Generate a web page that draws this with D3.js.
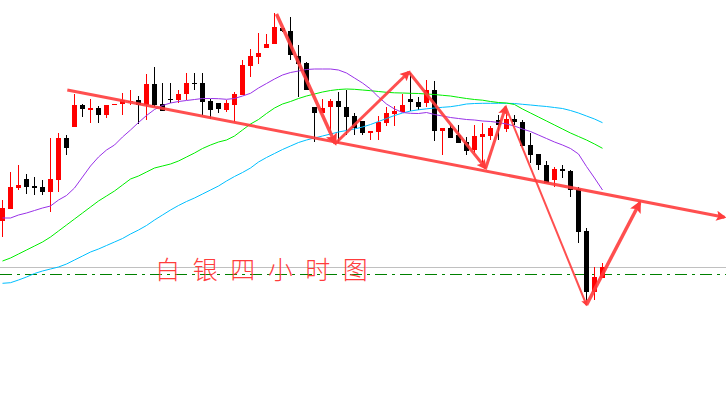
<!DOCTYPE html>
<html>
<head>
<meta charset="utf-8">
<script src="https://cdn.jsdelivr.net/npm/d3@7"></script>
<style>
  body { margin: 0; background: #fff; }
  svg { display: block; }
</style>
</head>
<body>
<div id="chart"></div>
<script>
// silver, 4h bars (prices)
const openVals = [15.793, 15.913, 16.123, 16.21, 16.14, 16.13, 16.083, 16.20, 16.62, 16.733,
  16.95, 16.90, 16.917, 16.85, 16.953, 16.957, 16.983, 17.00, 16.95, 17.16,
  16.96, 17.007, 17.00, 17.06, 17.173, 17.167, 16.993, 16.973, 16.90, 16.95,
  17.05, 17.34, 17.433, 17.523, 17.557, 17.717, 17.69, 17.44, 17.367, 16.927,
  16.867, 16.927, 16.99, 16.927, 16.84, 16.793, 16.667, 16.683, 16.773, 16.86,
  16.883, 17.01, 16.977, 16.967, 17.10, 16.693, 16.717, 16.65, 16.583, 16.50,
  16.633, 16.64, 16.80, 16.707, 16.807, 16.783, 16.55, 16.46, 16.35, 16.20,
  16.313, 16.293, 16.107, 15.69, 15.083, 15.217];
const highVals = [16.00, 16.283, 16.35, 16.26, 16.233, 16.20, 16.62, 16.67, 16.65, 17.06,
  16.96, 17.01, 16.94, 16.95, 16.965, 17.067, 17.10, 17.04, 17.26, 17.327,
  17.173, 17.167, 17.10, 17.273, 17.273, 17.273, 17.007, 16.973, 17.00, 17.08,
  17.40, 17.507, 17.667, 17.66, 17.867, 17.72, 17.827, 17.55, 17.383, 16.933,
  17.01, 17.01, 17.083, 17.10, 16.87, 16.793, 16.693, 16.84, 16.927, 16.94,
  17.06, 17.273, 17.027, 17.20, 17.19, 16.717, 16.75, 16.75, 16.633, 16.75,
  16.773, 16.74, 16.85, 16.917, 16.85, 16.80, 16.667, 16.46, 16.393, 16.333,
  16.35, 16.30, 16.127, 15.717, 15.327, 15.373];
const lowVals = [15.63, 15.913, 16.10, 16.06, 16.05, 16.05, 15.883, 16.083, 16.45, 16.733,
  16.833, 16.767, 16.767, 16.823, 16.945, 16.85, 16.95, 16.76, 16.80, 16.933,
  16.893, 16.973, 16.973, 17.00, 17.10, 16.85, 16.807, 16.867, 16.883, 16.78,
  17.05, 17.233, 17.36, 17.517, 17.557, 17.683, 17.40, 17.027, 17.10, 16.583,
  16.867, 16.67, 16.57, 16.65, 16.65, 16.65, 16.60, 16.60, 16.74, 16.74,
  16.883, 16.893, 16.90, 16.933, 16.593, 16.45, 16.623, 16.573, 16.45, 16.467,
  16.35, 16.60, 16.60, 16.683, 16.75, 16.54, 16.367, 16.30, 16.167, 16.133,
  16.217, 16.027, 15.567, 14.95, 15.00, 15.217];
const closeVals = [15.923, 16.13, 16.15, 16.133, 16.123, 16.083, 16.21, 16.62, 16.523, 16.95,
  16.907, 16.917, 16.85, 16.95, 16.957, 17.00, 16.993, 16.95, 17.16, 16.95,
  16.893, 16.997, 17.06, 17.167, 17.163, 16.983, 16.90, 16.907, 16.967, 17.06,
  17.35, 17.44, 17.467, 17.56, 17.733, 17.69, 17.45, 17.36, 17.10, 16.873,
  16.923, 16.99, 16.927, 16.827, 16.717, 16.667, 16.693, 16.783, 16.867, 16.893,
  16.95, 16.977, 16.927, 17.10, 16.693, 16.717, 16.623, 16.573, 16.493, 16.64,
  16.66, 16.717, 16.75, 16.807, 16.783, 16.54, 16.45, 16.35, 16.167, 16.307,
  16.287, 16.10, 15.683, 15.083, 15.227, 15.333];

// moving averages (purple / green / blue)
const maFast = [15.82, 15.82, 15.85, 15.87, 15.895, 15.92, 15.94, 16.00, 16.045, 16.12,
  16.23, 16.34, 16.43, 16.50, 16.55, 16.63, 16.70, 16.775, 16.845, 16.905,
  16.945, 16.97, 16.985, 16.995, 17.005, 17.015, 17.015, 17.013, 17.007, 17.015,
  17.04, 17.067, 17.12, 17.165, 17.21, 17.25, 17.275, 17.29, 17.305, 17.31,
  17.31, 17.31, 17.30, 17.27, 17.22, 17.17, 17.11, 17.03, 16.96, 16.91,
  16.875, 16.867, 16.865, 16.875, 16.855, 16.84, 16.825, 16.815, 16.805, 16.80,
  16.79, 16.785, 16.775, 16.76, 16.74, 16.71, 16.685, 16.65, 16.615, 16.58,
  16.55, 16.515, 16.46, 16.335, 16.22, 16.10];
const maMid = [15.39, 15.42, 15.46, 15.50, 15.54, 15.58, 15.63, 15.69, 15.75, 15.81,
  15.87, 15.93, 15.99, 16.04, 16.09, 16.15, 16.21, 16.24, 16.28, 16.32,
  16.34, 16.36, 16.39, 16.43, 16.47, 16.515, 16.55, 16.58, 16.60, 16.64,
  16.70, 16.76, 16.805, 16.865, 16.92, 16.96, 16.985, 17.015, 17.04, 17.06,
  17.08, 17.095, 17.105, 17.11, 17.107, 17.10, 17.093, 17.085, 17.077, 17.072,
  17.07, 17.067, 17.065, 17.06, 17.055, 17.047, 17.04, 17.027, 17.015, 17.005,
  16.998, 16.985, 16.975, 16.97, 16.955, 16.91, 16.87, 16.83, 16.79, 16.75,
  16.71, 16.67, 16.635, 16.60, 16.56, 16.517];
const maSlow = [15.167, 15.173, 15.20, 15.23, 15.265, 15.29, 15.31, 15.33, 15.36, 15.40,
  15.44, 15.48, 15.51, 15.545, 15.58, 15.615, 15.66, 15.70, 15.745, 15.80,
  15.85, 15.90, 15.945, 15.985, 16.02, 16.06, 16.10, 16.14, 16.19, 16.235,
  16.275, 16.32, 16.38, 16.425, 16.465, 16.505, 16.54, 16.575, 16.60, 16.62,
  16.64, 16.66, 16.68, 16.695, 16.71, 16.73, 16.755, 16.785, 16.815, 16.845,
  16.87, 16.89, 16.902, 16.912, 16.92, 16.927, 16.933, 16.945, 16.96, 16.965,
  16.967, 16.967, 16.967, 16.967, 16.965, 16.957, 16.95, 16.942, 16.935, 16.925,
  16.915, 16.895, 16.87, 16.84, 16.81, 16.773];

// drawn annotations (bar index, price)
const trendIdx = [8.1, 90.25];
const trendPrice = [17.10, 15.827];
const waveIdx = [34.25, 41.6, 50.8, 60.4, 62.9, 73.0, 79.66];
const wavePrice = [17.86, 16.565, 17.28, 16.317, 16.933, 14.95, 15.973];
const bidPrice = 15.333;
const supportPrice = 15.26;
const titleText = '白银四小时图';

class CandleChart {

    constructor(_config) {
        this.config = {
            parentElement: _config.parentElement,
            containerWidth: _config.containerWidth || 726,
            containerHeight: _config.containerHeight || 399
        };
        this.initVis();
    }

    initVis() {
        let vis = this;

        vis.svg = d3.select(vis.config.parentElement)
            .append('svg')
            .attr('width', vis.config.containerWidth)
            .attr('height', vis.config.containerHeight);

        vis.svg.append('rect')
            .attr('width', vis.config.containerWidth)
            .attr('height', vis.config.containerHeight)
            .attr('fill', '#fff');

        vis.x = d3.scaleLinear().domain([0, 90]).range([2.5, 722.5]);
        vis.y = d3.scaleLinear().domain([15, 18]).range([300, 0]);

        const defs = vis.svg.append('defs');
        defs.append('marker')
            .attr('id', 'head')
            .attr('viewBox', '0 0 10 10')
            .attr('refX', 8).attr('refY', 5)
            .attr('markerWidth', 4).attr('markerHeight', 3.4)
            .attr('orient', 'auto')
            .append('path')
            .attr('d', 'M0,0 L10,5 L0,10 L2,5 Z')
            .attr('fill', '#ff3c3c');

        vis.renderVis();
    }

    renderVis() {
        let vis = this;
        const x = vis.x, y = vis.y;
        const bars = d3.range(openVals.length).map(i => ({
            i: i, o: openVals[i], h: highVals[i], l: lowVals[i], c: closeVals[i]
        }));

        // horizontal lines
        vis.svg.append('line')
            .attr('x1', 0).attr('x2', vis.config.containerWidth)
            .attr('y1', Math.round(y(bidPrice)) + 0.5).attr('y2', Math.round(y(bidPrice)) + 0.5)
            .attr('stroke', '#c0c0c0');
        vis.svg.append('line')
            .attr('x1', 0).attr('x2', vis.config.containerWidth)
            .attr('y1', Math.round(y(supportPrice)) + 0.5).attr('y2', Math.round(y(supportPrice)) + 0.5)
            .attr('stroke', '#008000')
            .attr('stroke-dasharray', '12,5,3,5');

        // candles
        const colorOf = d => d.c >= d.o ? '#ff0000' : '#000000';
        const candles = vis.svg.append('g').selectAll('g')
            .data(bars).enter().append('g');

        candles.append('rect')
            .attr('x', d => x(d.i) - 0.5)
            .attr('y', d => Math.round(y(d.h)))
            .attr('width', 1)
            .attr('height', d => Math.max(1, Math.round(y(d.l)) - Math.round(y(d.h))))
            .attr('fill', colorOf);

        candles.append('rect')
            .attr('x', d => x(d.i) - 2.5)
            .attr('y', d => Math.round(y(Math.max(d.o, d.c))))
            .attr('width', 5)
            .attr('height', d => Math.max(1, Math.round(y(Math.min(d.o, d.c))) - Math.round(y(Math.max(d.o, d.c)))))
            .attr('fill', colorOf);

        // moving averages
        const maLine = d3.line()
            .x((d, i) => x(i))
            .y(d => y(d));
        [[maSlow, '#00bfff'], [maMid, '#00ee00'], [maFast, '#9932e8']].forEach(([s, col]) => {
            vis.svg.append('path')
                .datum(s)
                .attr('d', maLine)
                .attr('fill', 'none')
                .attr('stroke', col)
                .attr('stroke-width', 1);
        });

        // title
        vis.svg.append('text')
            .attr('x', x(19.1))
            .attr('y', y(15.21))
            .attr('fill', '#ff3c3c')
            .attr('font-family', '"Noto Sans CJK SC", sans-serif')
            .attr('font-size', 25)
            .attr('font-weight', 300)
            .attr('letter-spacing', 12.5)
            .text(titleText);

        // trend line
        vis.svg.append('line')
            .attr('x1', x(trendIdx[0])).attr('y1', y(trendPrice[0]))
            .attr('x2', x(trendIdx[1])).attr('y2', y(trendPrice[1]))
            .attr('stroke', '#ff3c3c')
            .attr('stroke-opacity', 0.9)
            .attr('stroke-width', 3)
            .attr('marker-end', 'url(#head)');

        // wave arrows
        const widths = [3.5, 3, 3, 3, 2, 3.5];
        d3.range(waveIdx.length - 1).forEach(k => {
            vis.svg.append('line')
                .attr('x1', x(waveIdx[k])).attr('y1', y(wavePrice[k]))
                .attr('x2', x(waveIdx[k + 1])).attr('y2', y(wavePrice[k + 1]))
                .attr('stroke', '#ff3c3c')
                .attr('stroke-opacity', 0.9)
                .attr('stroke-width', widths[k])
                .attr('marker-end', 'url(#head)');
        });
    }
}

new CandleChart({ parentElement: '#chart' });
</script>
</body>
</html>
